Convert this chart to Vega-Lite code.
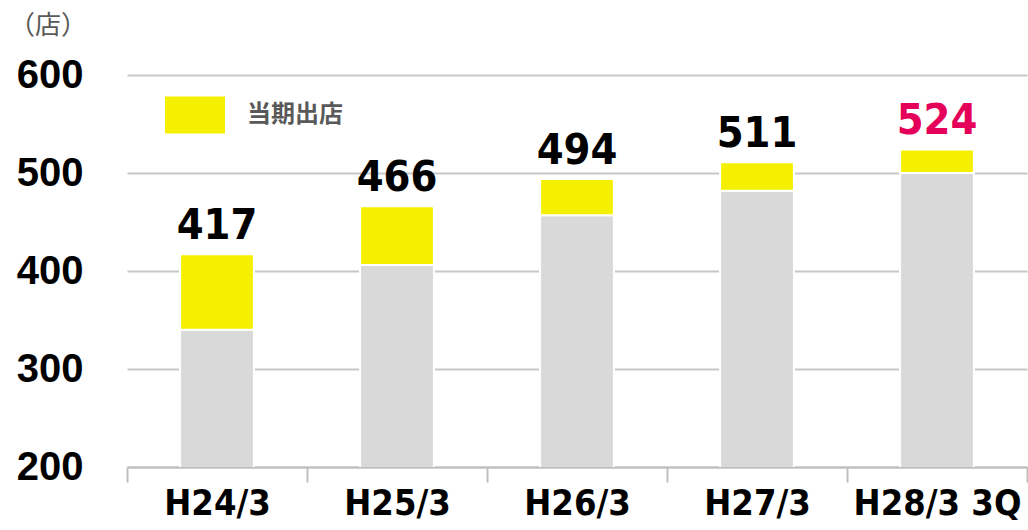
{
  "$schema": "https://vega.github.io/schema/vega-lite/v6.json",
  "width": 900,
  "height": 392,
  "autosize": {"type": "none"},
  "padding": {"left": 127, "top": 75, "right": 1, "bottom": 63},
  "background": "white",
  "title": {
    "text": "（店）",
    "anchor": "start",
    "frame": "group",
    "orient": "top",
    "dx": -118,
    "dy": 22,
    "offset": 17,
    "baseline": "alphabetic",
    "font": "Noto Sans CJK JP",
    "fontSize": 26,
    "fontWeight": "normal",
    "color": "#595959"
  },
  "config": {
    "view": {"stroke": null},
    "axisY": {
      "labelFont": "Liberation Sans",
      "labelFontWeight": "bold",
      "labelFontSize": 40,
      "labelColor": "#000000",
      "labelPadding": 44,
      "domain": false,
      "ticks": false,
      "grid": true,
      "gridColor": "#C8C8C8",
      "gridWidth": 2
    }
  },
  "data": {
    "values": [
      {"period": "H24/3", "type": "既存", "value": 340},
      {"period": "H24/3", "type": "当期出店", "value": 77},
      {"period": "H25/3", "type": "既存", "value": 406},
      {"period": "H25/3", "type": "当期出店", "value": 60},
      {"period": "H26/3", "type": "既存", "value": 457},
      {"period": "H26/3", "type": "当期出店", "value": 37},
      {"period": "H27/3", "type": "既存", "value": 482},
      {"period": "H27/3", "type": "当期出店", "value": 29},
      {"period": "H28/3 3Q", "type": "既存", "value": 500},
      {"period": "H28/3 3Q", "type": "当期出店", "value": 24}
    ]
  },
  "encoding": {
    "x": {
      "field": "period",
      "type": "nominal",
      "sort": null,
      "scale": {"paddingInner": 0, "paddingOuter": 0},
      "axis": {
        "title": null,
        "labelAngle": 0,
        "labelFont": "DejaVu Sans Condensed",
        "labelFontWeight": "bold",
        "labelFontSize": 36,
        "labelLimit": 220,
        "labelColor": "#000000",
        "labelPadding": 4,
        "domainColor": "#BFBFBF",
        "domainWidth": 2,
        "tickColor": "#BFBFBF",
        "tickWidth": 2,
        "tickSize": 15,
        "tickBand": "extent",
        "grid": false
      }
    }
  },
  "layer": [
    {
      "mark": {"type": "bar", "clip": true, "stroke": "white", "strokeWidth": 2, "width": {"band": 0.41}},
      "encoding": {
        "y": {
          "field": "value",
          "type": "quantitative",
          "stack": "zero",
          "title": null,
          "scale": {"domain": [200, 600]},
          "axis": {"values": [200, 300, 400, 500, 600]}
        },
        "color": {
          "field": "type",
          "type": "nominal",
          "scale": {"domain": ["既存", "当期出店"], "range": ["#D9D9D9", "#F5F000"]},
          "legend": {
            "values": ["当期出店"],
            "title": null,
            "orient": "none",
            "legendX": 38,
            "legendY": 10,
            "padding": 0,
            "symbolType": "M-1,-0.62H1V0.62H-1Z",
            "symbolSize": 3600,
            "symbolStrokeWidth": 0,
            "symbolFillColor": "#FFFF00",
            "labelFont": "Noto Sans CJK JP",
            "labelFontSize": 24,
            "labelFontWeight": "bold",
            "labelColor": "#595959",
            "labelOffset": 22,
            "encode": {"symbols": {"update": {"fill": {"value": "#FFFF00"}, "opacity": {"value": 1}}}}
          }
        },
        "order": {"field": "type", "sort": "descending"}
      }
    },
    {
      "mark": {
        "type": "text",
        "font": "DejaVu Sans Condensed",
        "fontWeight": "bold",
        "fontSize": 43,
        "baseline": "alphabetic",
        "dy": -15
      },
      "encoding": {
        "y": {"aggregate": "sum", "field": "value", "type": "quantitative", "title": null, "axis": {"values": [200, 300, 400, 500, 600]}},
        "text": {"aggregate": "sum", "field": "value", "type": "quantitative"},
        "color": {
          "condition": {"test": "datum.period === 'H28/3 3Q'", "value": "#E5005A"},
          "value": "#000000"
        }
      }
    }
  ]
}
